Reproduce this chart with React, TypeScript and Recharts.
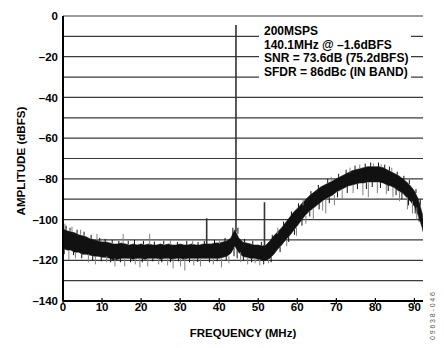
import React from 'react';
import { ComposedChart, Area, Line, XAxis, YAxis, CartesianGrid } from 'recharts';

// Noise-floor envelope (dBFS), 1 MHz steps
const freqMHz = [
  0, 1, 2, 3, 4, 5, 6, 7, 8, 9, 10, 11, 12, 13, 14, 15, 16, 17, 18, 19, 20, 21, 22, 23, 24, 25, 26, 27, 28, 29,
  30, 31, 32, 33, 34, 35, 36, 37, 38, 39, 40, 41, 42, 43, 44, 45, 46, 47, 48, 49, 50, 51, 52, 53, 54, 55, 56, 57, 58, 59,
  60, 61, 62, 63, 64, 65, 66, 67, 68, 69, 70, 71, 72, 73, 74, 75, 76, 77, 78, 79, 80, 81, 82, 83, 84, 85, 86, 87, 88, 89,
  90, 91, 92, 92.2,
];
const coreTop = [
  -104.5, -105.5, -106, -106.5, -107.5, -108, -108.5, -109.5, -110, -110.5, -111, -111, -111.5, -112, -112, -111.5, -112, -112.5, -112, -112.5,
  -112, -112.5, -112, -112.5, -112.5, -112, -112.5, -112, -112.5, -112.5, -112, -112.5, -112.5, -112, -112.5, -112.5, -112, -112, -112, -111.5,
  -111.5, -111, -110.5, -109, -105, -109, -111, -111.5, -112, -112.5, -112.5, -113, -112.5, -110.5, -108, -106, -104, -101.5, -99, -96.5,
  -94.5, -92.5, -90.5, -88.5, -87, -85.5, -84, -83, -82, -81, -80, -79, -78, -77, -76, -75.5, -75, -74.5, -74, -74,
  -74, -74, -74.5, -75.5, -76.5, -77.5, -78.5, -80, -81.5, -83.5, -86, -90, -97, -100,
];
const coreBottom = [
  -114, -115, -115, -116, -116, -117, -117, -117.5, -118, -118, -118.5, -118.5, -119, -120, -119.5, -119, -119, -119, -119.5, -119,
  -119, -119.5, -119, -119, -119, -119.5, -119, -119, -119.5, -119, -119, -119.5, -119, -119, -119, -119, -119, -119, -119, -119,
  -119, -118.5, -118, -116.5, -113, -116, -118, -118.5, -119, -119, -119.5, -120, -120, -119, -117, -114.5, -112.5, -110, -108, -105.5,
  -103, -100.5, -98, -96, -94.5, -93, -91.5, -90, -89, -88, -86.5, -85.5, -84.5, -83.5, -83, -82.5, -82, -82, -81.5, -81.5,
  -81.5, -81.5, -82, -83, -83.5, -84.5, -86, -87, -89, -91, -93.5, -98, -104, -106,
];

// Tones: fundamental and spurs
const toneFreq = [36.8, 44.3, 51.6];
const toneBase = [-112, -106, -113];
const tonePeak = [-99.3, -4.4, -91.5];

// Longer noise excursions (grey)
const spikeFreq = [
  1.5, 3.2, 6.5, 8.3, 11.2, 13.3, 15.8, 18.5, 19.7, 21.7, 24.5, 26.8, 28.2, 30.1, 31.2, 33.5, 35.2, 38.5, 40.6, 42.5,
  45.5, 47.3, 49.2, 50.4, 52.6, 57.3, 59.8, 62.2, 64.1, 66.5, 67.3, 69.5, 71.5, 74.3, 76.8, 78.2, 80.5, 82.8, 84.5, 86.2,
  88.2, 89.5, 90.6,
  0.5, 2.3, 4.5, 8.7, 15.4, 22.2, 27.5, 33.2, 40.1, 55.0, 61.5, 68.7, 73.5, 76.0, 79.5, 81.5, 84.2,
];
const spikeFrom = [
  -115, -116, -117, -118, -118, -119, -119, -119, -119, -119, -119, -119, -119, -119, -119, -119, -119, -119, -119, -118,
  -116, -118.5, -119, -119.5, -120, -110, -104, -98, -94.5, -91, -90, -88, -85.5, -83, -82, -81.5, -81.5, -83, -84, -86,
  -89, -91, -94,
  -105, -106, -107.5, -110, -112, -112.5, -112.5, -112.5, -112, -107, -93, -81.5, -77, -75, -74, -74, -76.5,
];
const spikeTo = [
  -120, -119, -121, -122, -121, -123, -123, -122, -123.5, -123, -122, -122.5, -124, -123, -125, -122.5, -123, -122, -123.5, -121.5,
  -121, -122, -121.5, -122.5, -121.5, -113, -108, -102, -100, -95.5, -97, -93, -90, -87, -88, -89, -87, -87.5, -89, -91,
  -95, -97, -100,
  -102, -103.5, -105, -107, -107, -107, -110, -110.5, -109.5, -104, -90, -79, -74.5, -73, -72.5, -72.8, -74.5,
];

// Short ragged excursions at the edges of the noise band (black)
const edgeFreq = [
  0.8, 1.8, 3.6, 5.4, 7.2, 9.4, 10.8, 12.6, 14.3, 16.7, 18.3, 20.6, 23.4, 25.8, 29.3, 31.7, 34.6, 36.2, 38.8, 41.5,
  43.5, 44.8, 46.5, 48.6, 50.8, 53.6, 56.5, 58.5, 60.3, 63.5, 65.4, 67.8, 70.6, 72.5, 74.8, 77.4, 78.8, 80.8, 82.4, 83.6,
  85.6, 87.3, 88.7, 90.4, 91.5,
  0.3, 2.7, 4.8, 7.6, 9.8, 12.2, 14.7, 17.3, 20.3, 23.0, 25.3, 27.5, 29.6, 32.4, 34.5, 37.5, 39.5, 41.8, 43.8, 44.6,
  46.2, 48.3, 51.4, 53.3, 55.6, 57.8, 59.3, 61.2, 63.2, 65.6, 68.2, 70.3, 72.8, 75.4, 77.7, 79.2, 81.3, 83.3, 85.3, 86.8,
  88.5, 90.2, 91.2,
];
const edgeFrom = [
  -105, -105.5, -107, -108, -109.5, -110.5, -111, -111.5, -112, -112, -112, -112, -112.5, -112, -112.5, -112.5, -112.5, -112, -112, -111,
  -108, -107, -111, -112, -113, -109.5, -103, -98, -94, -88, -85, -82, -79.5, -77.5, -75.6, -74.5, -74, -74, -75, -76,
  -78, -80.5, -82.5, -87, -93,
  -114, -115.5, -117, -118, -118.5, -119, -119, -119, -119, -119, -119.5, -119, -119, -119, -119, -119, -119, -118, -114, -114,
  -118, -119, -120, -118.5, -113.5, -108.5, -105, -100, -96, -92, -89, -86.5, -83.8, -82.5, -81.8, -81.5, -81.5, -83, -85, -86.8,
  -90, -94, -99,
];
const edgeTo = [
  -103, -104, -105, -106, -107.5, -109, -109.5, -110, -110.5, -110.5, -110, -110.5, -110.8, -110.5, -111, -110.5, -111, -110.5, -110, -109,
  -104, -104, -109.5, -110.5, -111, -107.5, -101, -96, -92, -86, -83, -80, -77.5, -75.5, -73.5, -72.5, -72, -72, -73, -74,
  -76.5, -78.5, -80.5, -85, -90,
  -117, -117.5, -119, -120, -120.5, -121, -121, -121, -121, -120.5, -121, -121, -120.5, -121, -120.8, -121, -120.5, -120, -118, -119,
  -120, -121, -122, -121, -116, -111, -107.5, -103, -98.5, -95, -92, -89, -87, -85, -85, -84, -84.5, -86, -88, -90,
  -93, -97, -101,
];

const xTicks = [0, 10, 20, 30, 40, 50, 60, 70, 80, 90];
const yTicks = [0, -10, -20, -30, -40, -50, -60, -70, -80, -90, -100, -110, -120, -130, -140];
const yLabelled = [0, -20, -40, -60, -80, -100, -120, -140];

const bandData = freqMHz.map((f, i) => ({ f, range: [coreBottom[i], coreTop[i]] }));
const toSegments = (fs: number[], from: number[], to: number[]) =>
  fs.flatMap((f, i) => [
    { f, v: from[i] },
    { f, v: to[i] },
    { f, v: null },
  ]);
const spikeData = toSegments(spikeFreq, spikeFrom, spikeTo);
const edgeData = toSegments(edgeFreq, edgeFrom, edgeTo);
const toneData = toSegments(toneFreq, toneBase, tonePeak);

const FONT = '"Liberation Sans", Arial, sans-serif';
const fmtY = (v: number) => (yLabelled.includes(v) ? (v < 0 ? '\u2013' + Math.abs(v) : String(v)) : '');

const XTick = (props: any) => {
  const { x, y, payload } = props;
  return (
    <g>
      <line x1={x} x2={x} y1={y - 3} y2={y + 3} stroke="#000" strokeWidth={1.2} />
      <text x={x} y={y + 10} textAnchor="middle" fontFamily={FONT} fontWeight="bold" fontSize={11.5} fill="#000">
        {payload.value}
      </text>
    </g>
  );
};

export default function App() {
  return (
    <div style={{ position: 'fixed', left: 0, top: 0, width: 444, height: 348, background: '#fff' }}>
      <ComposedChart
        width={444}
        height={348}
        margin={{ top: 16, right: 21, bottom: 17, left: 13 }}
      >
        <CartesianGrid vertical={false} stroke="#3a3a3a" strokeWidth={1.2} />
        <XAxis
          dataKey="f"
          type="number"
          domain={[0, 92.2]}
          ticks={xTicks}
          allowDataOverflow
          height={30}
          tickSize={0}
          tickMargin={0}
          tickLine={false}
          tick={<XTick />}
          axisLine={{ stroke: '#000', strokeWidth: 2 }}
        />
        <XAxis xAxisId="top" orientation="top" type="number" domain={[0, 92.2]} height={0} tick={false} tickLine={false} axisLine={{ stroke: '#000', strokeWidth: 2 }} />
        <YAxis
          type="number"
          domain={[-140, 0]}
          ticks={yTicks}
          allowDataOverflow
          width={50}
          tickLine={false}
          tickSize={0}
          tickMargin={5}
          tickFormatter={fmtY}
          tick={{ fontFamily: FONT, fontWeight: 'bold', fontSize: 11.5, fill: '#000' }}
          axisLine={{ stroke: '#000', strokeWidth: 2 }}
        />
        <YAxis yAxisId="right" orientation="right" domain={[-140, 0]} width={0} tick={false} tickLine={false} axisLine={{ stroke: '#000', strokeWidth: 2 }} />
        <Line data={spikeData} dataKey="v" stroke="#808080" strokeWidth={1} dot={false} isAnimationActive={false} connectNulls={false} />
        <Area data={bandData} dataKey="range" type="linear" stroke="#111" strokeWidth={0.6} fill="#111" fillOpacity={1} isAnimationActive={false} />
        <Line data={edgeData} dataKey="v" stroke="#111" strokeWidth={1} dot={false} isAnimationActive={false} connectNulls={false} />
        <Line data={toneData} dataKey="v" stroke="#333" strokeWidth={1.6} dot={false} isAnimationActive={false} connectNulls={false} />
      </ComposedChart>
      <div
        style={{
          position: 'absolute',
          left: 259,
          top: 25,
          width: 152,
          height: 56,
          background: '#fff',
          fontFamily: FONT,
          fontWeight: 'bold',
          fontSize: 12,
          lineHeight: '13.7px',
          color: '#000',
          paddingLeft: 5,
          boxSizing: 'border-box',
          whiteSpace: 'nowrap',
        }}
      >
        <div>200MSPS</div>
        <div>140.1MHz @ &ndash;1.6dBFS</div>
        <div>SNR = 73.6dB (75.2dBFS)</div>
        <div>SFDR = 86dBc (IN BAND)</div>
      </div>
      <svg width={444} height={348} style={{ position: 'absolute', left: 0, top: 0, pointerEvents: 'none' }}>
        <text x={25} y={161} transform="rotate(-90 25 161)" textAnchor="middle" fontFamily={FONT} fontWeight="bold" fontSize={11.6} fill="#000">
          AMPLITUDE (dBFS)
        </text>
        <text x={243} y={337} textAnchor="middle" fontFamily={FONT} fontWeight="bold" fontSize={11.5} fill="#000">
          FREQUENCY (MHz)
        </text>
        <text x={435} y={340} transform="rotate(-90 435 340)" textAnchor="start" fontFamily={FONT} fontSize={7} fill="#555" textLength={48} lengthAdjust="spacing">
          09638-046
        </text>
      </svg>
    </div>
  );
}
